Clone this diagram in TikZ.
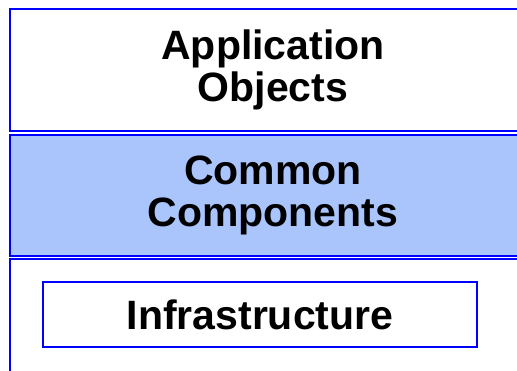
\documentclass[tikz,border=0pt]{standalone}
\usepackage{fontspec}
\setmainfont{Liberation Sans}
\usetikzlibrary{positioning}

\definecolor{layerblue}{RGB}{0,0,255}
\definecolor{layerfill}{RGB}{170,196,252}

\tikzset{
  layer/.style={draw=layerblue, line width=1.6pt, rectangle, inner sep=0pt,
    minimum width=526pt, align=center,
    font=\bfseries\fontsize{41}{42}\selectfont},
  basebox/.style={draw=layerblue, line width=1.6pt, rectangle, inner sep=0pt,
    minimum width=434pt, minimum height=65pt,
    font=\bfseries\fontsize{41}{42}\selectfont}
}

\begin{document}
\begin{tikzpicture}[x=1pt,y=1pt]
            \useasboundingbox (0,0) rectangle (517,-370);

            \node [layer, fill=white, minimum height=122pt, anchor=north west] (apps) at (9.2,-8.2) {Application\\Objects};
            \node [layer, fill=layerfill, minimum height=121pt, below = 2.4pt of apps] (common) {Common\\Components};
            \node [layer, fill=white, minimum height=150pt, below = 1.4pt of common] (infra) {};

            \node [basebox, anchor=north west] (base) at (42.2,-281.2) {Infrastructure};
\end{tikzpicture}
\end{document}
